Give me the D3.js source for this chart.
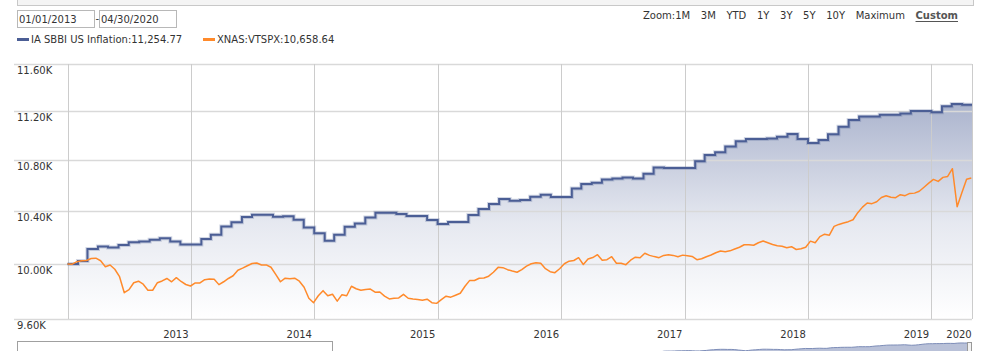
<!DOCTYPE html>
<html>
<head>
<meta charset="utf-8" />
<title>Growth of 10K</title>
<script src="https://d3js.org/d3.v7.min.js"></script>
<style>
  body { margin: 0; background: #fff; }
  svg { display: block; font-family: "DejaVu Sans", Verdana, sans-serif; }
</style>
</head>
<body>
<svg></svg>
<script>
// ---- data ----
const seriesNames = ["IA SBBI US Inflation", "XNAS:VTSPX"];
const dateRange = ["01/01/2013", "04/30/2020"];
const zoomButtons = ["1M", "3M", "YTD", "1Y", "3Y", "5Y", "10Y", "Maximum", "Custom"];
const yTicks = [9600, 10000, 10400, 10800, 11200, 11600];
const yearLabels = [2013, 2014, 2015, 2016, 2017, 2018, 2019, 2020];

// monthly, Jan 2013 .. Apr 2020
const inflation = [
  10000, 10022, 10112, 10131, 10124, 10142, 10162, 10169, 10182, 10192, 10169, 10146,
  10146, 10187, 10220, 10283, 10314, 10355, 10373, 10373, 10357, 10361, 10334, 10275,
  10230, 10174, 10220, 10281, 10306, 10352, 10388, 10388, 10378, 10363, 10363, 10332,
  10301, 10317, 10317, 10371, 10417, 10455, 10494, 10481, 10487, 10512, 10528, 10510,
  10510, 10577, 10612, 10622, 10648, 10656, 10662, 10656, 10693, 10743, 10739, 10739,
  10739, 10792, 10843, 10864, 10912, 10953, 10972, 10972, 10977, 10991, 11013, 10972,
  10940, 10964, 11010, 11073, 11128, 11156, 11156, 11172, 11172, 11181, 11203, 11203,
  11191, 11241, 11261, 11254.77
];

// every two weeks from 01/01/2013
const vtspx = [
  10000, 9999, 10017, 10024, 10026, 10041, 10043, 10024, 9980, 9993, 9961, 9906,
  9789, 9811, 9862, 9873, 9851, 9807, 9807, 9862, 9875, 9893, 9869, 9899,
  9871, 9849, 9838, 9860, 9860, 9884, 9890, 9888, 9848, 9869, 9893, 9913,
  9954, 9969, 9987, 10004, 10007, 9993, 9993, 9976, 9923, 9869, 9895, 9891,
  9895, 9873, 9829, 9749, 9717, 9767, 9804, 9767, 9778, 9728, 9775, 9767,
  9836, 9818, 9807, 9813, 9816, 9793, 9794, 9764, 9744, 9749, 9751, 9777,
  9749, 9744, 9740, 9735, 9742, 9717, 9712, 9739, 9764, 9757, 9771, 9785,
  9836, 9879, 9878, 9895, 9897, 9910, 9939, 9975, 9973, 9958, 9948, 9939,
  9958, 9984, 10002, 10010, 10006, 9965, 9943, 9936, 9965, 10002, 10021, 10026,
  10047, 9996, 10037, 10048, 10069, 10028, 10032, 10054, 10006, 10006, 9995, 10028,
  10051, 10047, 10080, 10064, 10055, 10047, 10064, 10069, 10064, 10054, 10066, 10062,
  10056, 10032, 10039, 10054, 10067, 10084, 10097, 10092, 10098, 10112, 10125, 10144,
  10144, 10140, 10159, 10172, 10159, 10146, 10137, 10132, 10122, 10129, 10108, 10114,
  10125, 10171, 10159, 10205, 10224, 10216, 10283, 10298, 10309, 10319, 10334, 10388,
  10431, 10463, 10458, 10473, 10506, 10520, 10508, 10504, 10528, 10520, 10538, 10540,
  10555, 10586, 10618, 10648, 10632, 10664, 10671, 10733, 10434, 10543, 10649, 10658.64
];

const startDate = new Date(2013, 0, 1);
const endDate = new Date(2020, 3, 30);

const inflationPts = inflation.map((v, i) => ({ date: d3.timeMonth.offset(startDate, i), value: v }));
inflationPts.push({ date: endDate, value: inflation[inflation.length - 1] });
const vtspxPts = vtspx.map((v, i) => ({ date: d3.timeDay.offset(startDate, i * 14), value: v }));

const blue = "#4b5e95", orange = "#ff8a2b", textColor = "#333";

const W = 983, H = 351;
const plot = { left: 67.5, right: 972, top: 64, bottom: 319 };

const svg = d3.select("svg").attr("width", W).attr("height", H);

const x = d3.scaleTime().domain([startDate, endDate]).range([plot.left, plot.right]);
const y = d3.scaleLog().domain([9600, 11600]).range([plot.bottom, plot.top]);

// top panel
svg.append("rect").attr("x", 17.5).attr("y", -1).attr("width", 956).attr("height", 6.5)
  .attr("fill", "#f4f4f4").attr("stroke", "#c8c8c8");

// date inputs
const inputs = svg.append("g");
[17.5, 99.5].forEach((bx, i) => {
  inputs.append("rect").attr("x", bx).attr("y", 10.5).attr("width", 77).attr("height", 17)
    .attr("fill", "#fff").attr("stroke", "#b8b8b8");
  inputs.append("text").attr("x", bx + 1.5).attr("y", 23).attr("font-size", 10)
    .attr("fill", textColor).text(dateRange[i]);
});
inputs.append("text").attr("x", 95.5).attr("y", 22).attr("font-size", 10).attr("fill", textColor).text("-");

// zoom buttons
const zg = svg.append("g").attr("font-size", 10).attr("fill", textColor);
const zoomLabel = zg.append("text").attr("x", 643).attr("y", 19).text("Zoom:");
const zoomTexts = zoomButtons.map(b => zg.append("text").attr("y", 19).text(b)
  .attr("font-weight", b === "Custom" ? "bold" : null)
  .attr("fill", b === "Custom" ? "#555" : textColor));
{
  let cx = 643 + zoomLabel.node().getComputedTextLength();
  const total = zoomTexts.reduce((s, t) => s + t.node().getComputedTextLength(), 0);
  const gap = (958 - cx - total) / (zoomTexts.length - 1);
  zoomTexts.forEach(t => {
    t.attr("x", cx);
    const w = t.node().getComputedTextLength();
    if (t.text() === "Custom") {
      zg.append("line").attr("x1", cx).attr("x2", cx + w).attr("y1", 21.5).attr("y2", 21.5)
        .attr("stroke", "#555").attr("stroke-width", 1);
    }
    cx += w + gap;
  });
}

// legend
const legend = svg.append("g").attr("font-size", 10).attr("fill", textColor);
const lastVals = [inflation[inflation.length - 1], vtspx[vtspx.length - 1]];
[[17, blue], [203, orange]].forEach(([lx, c], i) => {
  legend.append("rect").attr("x", lx).attr("y", 38).attr("width", 12).attr("height", 3).attr("fill", c);
  legend.append("text").attr("x", lx + 14).attr("y", 43)
    .text(seriesNames[i] + ":" + d3.format(",.2f")(lastVals[i]));
});

// gradient
const defs = svg.append("defs");
const grad = defs.append("linearGradient").attr("id", "areaGrad")
  .attr("gradientUnits", "userSpaceOnUse").attr("x1", 0).attr("x2", 0)
  .attr("y1", y(11250)).attr("y2", plot.bottom);
grad.append("stop").attr("offset", 0).attr("stop-color", blue).attr("stop-opacity", 0.46);
grad.append("stop").attr("offset", 0.55).attr("stop-color", blue).attr("stop-opacity", 0.14);
grad.append("stop").attr("offset", 1).attr("stop-color", blue).attr("stop-opacity", 0.0);

// area under inflation
svg.append("path").datum(inflationPts)
  .attr("fill", "url(#areaGrad)")
  .attr("d", d3.area().curve(d3.curveStepAfter).x(d => x(d.date)).y0(plot.bottom).y1(d => y(d.value)));

// grid
const grid = svg.append("g");
grid.selectAll(".hg").data(yTicks).join("line")
  .attr("x1", 14).attr("x2", plot.right)
  .attr("y1", d => Math.round(y(d)) + 0.5).attr("y2", d => Math.round(y(d)) + 0.5)
  .attr("stroke", "#d9d9d9").attr("stroke-width", 1.6);
const vLines = [startDate].concat(yearLabels.slice(1).map(yr => new Date(yr, 0, 1)), [endDate]);
grid.selectAll(".vg").data(vLines).join("line")
  .attr("x1", d => Math.round(x(d)) + 0.5).attr("x2", d => Math.round(x(d)) + 0.5)
  .attr("y1", plot.top).attr("y2", plot.bottom)
  .attr("stroke", "#cccccc").attr("stroke-width", 1);

// y labels
svg.append("g").attr("font-size", 10).attr("fill", textColor)
  .selectAll("text").data(yTicks).join("text")
  .attr("x", 17).attr("y", d => y(d) + 10)
  .text(d => d3.format(".2f")(d / 1000) + "K");

// x labels
svg.append("g").attr("font-size", 10).attr("fill", textColor).attr("text-anchor", "middle")
  .selectAll("text").data(yearLabels).join("text")
  .attr("x", d => Math.min(x(new Date(d + 1, 0, 1)) - 15, plot.right - 13))
  .attr("y", 338)
  .text(d => d);

// series lines
svg.append("path").datum(inflationPts)
  .attr("fill", "none").attr("stroke", blue).attr("stroke-opacity", 0.25).attr("stroke-width", 4)
  .attr("d", d3.line().curve(d3.curveStepAfter).x(d => x(d.date)).y(d => y(d.value)));
svg.append("path").datum(inflationPts)
  .attr("fill", "none").attr("stroke", blue).attr("stroke-width", 2)
  .attr("d", d3.line().curve(d3.curveStepAfter).x(d => x(d.date)).y(d => y(d.value)));
svg.append("path").datum(vtspxPts)
  .attr("fill", "none").attr("stroke", orange).attr("stroke-width", 1.5).attr("stroke-linejoin", "round")
  .attr("d", d3.line().x(d => x(d.date)).y(d => y(d.value)));

// navigator
const nx = d3.scaleTime().domain([startDate, endDate]).range([657, 968]);
const ny = d3.scaleLinear().domain([10000, 11255]).range([352, 343]);
svg.append("path").datum(inflationPts)
  .attr("fill", "#b9c1d8").attr("stroke", "#7d8db8").attr("stroke-width", 1)
  .attr("d", d3.area().x(d => nx(d.date)).y0(H + 2).y1(d => ny(d.value)));
svg.append("rect").attr("x", 17.5).attr("y", 341.5).attr("width", 315).attr("height", 14)
  .attr("fill", "#fff").attr("stroke", "#a0a0a0");
svg.append("rect").attr("x", 967.5).attr("y", 342.5).attr("width", 4).attr("height", 12)
  .attr("fill", "#f2f2f2").attr("stroke", "#999");
</script>
</body>
</html>
